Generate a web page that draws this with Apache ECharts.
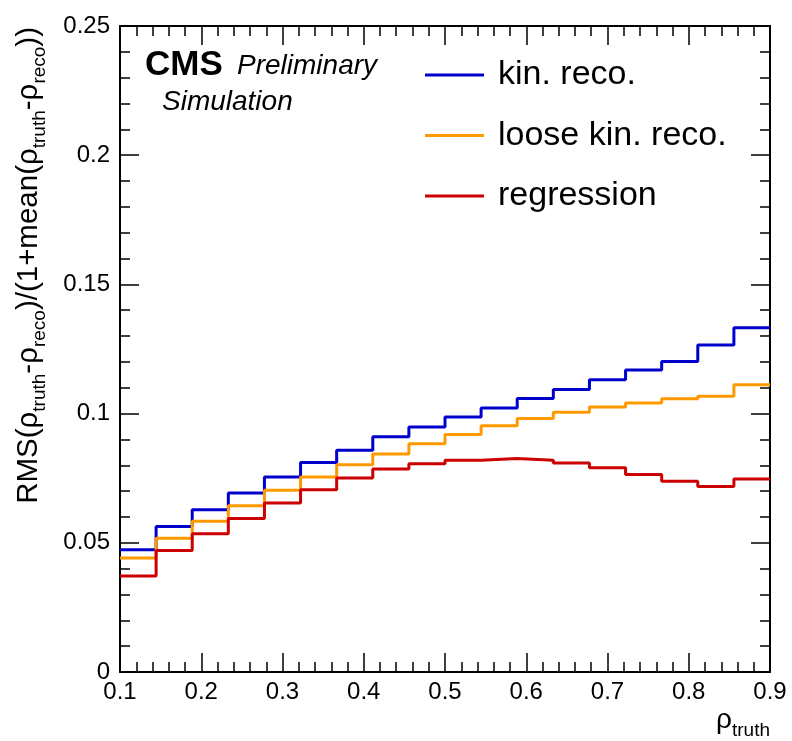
<!DOCTYPE html>
<html>
<head>
<meta charset="utf-8">
<script src="https://cdn.jsdelivr.net/npm/echarts@6/dist/echarts.min.js"></script>
<style>
html, body { margin: 0; padding: 0; background: #fff; }
#chart { width: 792px; height: 741px; }
</style>
</head>
<body>
<div id="chart"></div>
<script>
// rho_truth binning: 18 equal bins between 0.1 and 0.9
const xMin = 0.1
const xMax = 0.9
const nBins = 18

// RMS per bin
const kinReco = [0.0473, 0.0563, 0.0628, 0.0693, 0.0755, 0.0811, 0.0858, 0.0910, 0.0948,
  0.0987, 0.1022, 0.1058, 0.1093, 0.1131, 0.1169, 0.1202, 0.1265, 0.1332]
const looseKinReco = [0.0441, 0.0518, 0.0583, 0.0643, 0.0703, 0.0755, 0.0802, 0.0844, 0.0883,
  0.0919, 0.0953, 0.0981, 0.1005, 0.1026, 0.1041, 0.1057, 0.1067, 0.1112]
const regression = [0.0372, 0.0470, 0.0535, 0.0594, 0.0654, 0.0705, 0.0751, 0.0786, 0.0806,
  0.0819, 0.0826, 0.0819, 0.0809, 0.0790, 0.0764, 0.0738, 0.0718, 0.0747]

const seriesNames = ['kin. reco.', 'loose kin. reco.', 'regression']
const seriesColors = ['#0000cc', '#ff9900', '#cc0000']

const font = 'Liberation Sans'

// histogram outline: one point per left bin edge plus the closing right edge
function steps(vals) {
  const w = (xMax - xMin) / nBins
  const pts = vals.map((v, i) => [xMin + i * w, v])
  pts.push([xMax, vals[vals.length - 1]])
  return pts
}

function axisStyle(extra) {
  return Object.assign({
    axisLine: { show: true, onZero: false, lineStyle: { color: '#000', width: 2 } },
    axisTick: { inside: true, length: 19, lineStyle: { color: '#000', width: 1.5 } },
    minorTick: { show: true, splitNumber: 5, length: 10, lineStyle: { color: '#000', width: 1.5 } },
    splitLine: { show: false },
    minorSplitLine: { show: false }
  }, extra)
}

const chart = echarts.init(document.getElementById('chart'))

chart.setOption({
  animation: false,
  backgroundColor: '#fff',
  grid: { left: 120, right: 22, top: 26, bottom: 69 },
  xAxis: [
    axisStyle({
      type: 'value', min: xMin, max: xMax, interval: 0.1, position: 'bottom',
      axisLabel: { fontSize: 24, color: '#000', margin: 8, fontFamily: font }
    }),
    axisStyle({
      type: 'value', min: xMin, max: xMax, interval: 0.1, position: 'top',
      axisLabel: { show: false }
    })
  ],
  yAxis: [
    axisStyle({
      type: 'value', min: 0, max: 0.25, interval: 0.05, position: 'left',
      axisLabel: { fontSize: 24, color: '#000', margin: 10, fontFamily: font }
    }),
    axisStyle({
      type: 'value', min: 0, max: 0.25, interval: 0.05, position: 'right',
      axisLabel: { show: false }
    })
  ],
  legend: {
    orient: 'vertical',
    left: 425,
    top: 58,
    padding: 0,
    icon: 'rect',
    itemWidth: 59,
    itemHeight: 3,
    itemGap: 26.5,
    textStyle: { fontSize: 34, lineHeight: 34, color: '#000', fontFamily: font, padding: [0, 0, 0, 9] },
    data: seriesNames
  },
  series: [kinReco, looseKinReco, regression].map((vals, i) => ({
    name: seriesNames[i],
    type: 'line',
    step: 'end',
    showSymbol: false,
    color: seriesColors[i],
    lineStyle: { width: 3, color: seriesColors[i] },
    data: steps(vals)
  })),
  graphic: [
    {
      type: 'text', x: 145, y: 65,
      style: { text: 'CMS', font: 'bold 35px "Liberation Sans"', fill: '#000', verticalAlign: 'middle' }
    },
    {
      type: 'text', x: 237, y: 66,
      style: { text: 'Preliminary', font: 'italic 28px "Liberation Sans"', fill: '#000', verticalAlign: 'middle' }
    },
    {
      type: 'text', x: 162, y: 102,
      style: { text: 'Simulation', font: 'italic 28px "Liberation Sans"', fill: '#000', verticalAlign: 'middle' }
    },
    {
      // y axis title, aligned to the top end of the axis
      type: 'text', x: 29, y: 27, rotation: Math.PI / 2,
      style: {
        text: '{m|RMS(ρ}{s|truth}{m|-ρ}{s|reco}{m|)/(1+mean(ρ}{s|truth}{m|-ρ}{s|reco}{m|))}',
        align: 'right', verticalAlign: 'middle',
        rich: {
          m: { fontSize: 29.5, lineHeight: 40, fontFamily: font, fill: '#000' },
          s: { fontSize: 19, lineHeight: 12, verticalAlign: 'bottom', fontFamily: font, fill: '#000' }
        }
      }
    },
    {
      // x axis title at the right end
      type: 'text', x: 770, y: 700,
      style: {
        text: '{m|ρ}{s|truth}',
        align: 'right', verticalAlign: 'top',
        rich: {
          m: { fontSize: 28, lineHeight: 40, fontFamily: font, fill: '#000' },
          s: { fontSize: 19, lineHeight: 12, verticalAlign: 'bottom', fontFamily: font, fill: '#000' }
        }
      }
    }
  ]
})
</script>
</body>
</html>
